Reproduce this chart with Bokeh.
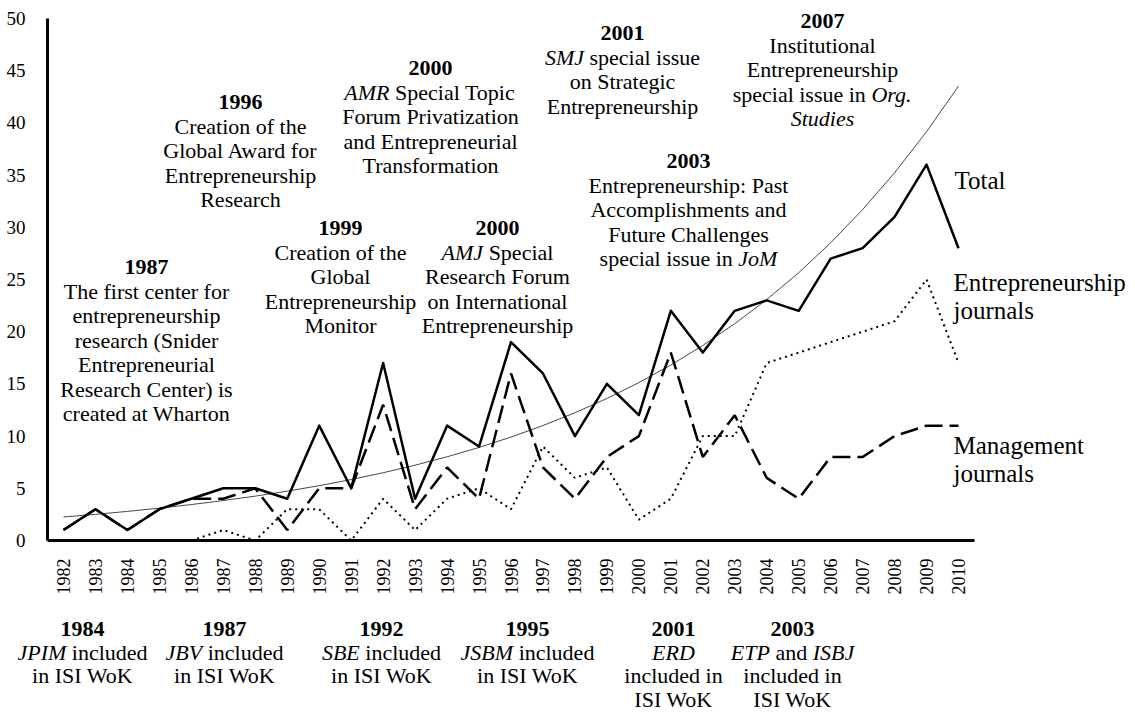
import numpy as np
from bokeh.plotting import figure
from bokeh.models import Label, FixedTicker, Range1d, ColumnDataSource
from bokeh.embed import file_html
from bokeh.resources import INLINE

# ---------------- data ----------------
years = list(range(1982, 2011))
total = [1, 3, 1, 3, 4, 5, 5, 4, 11, 5, 17, 4, 11, 9, 19, 16, 10, 15, 12, 22,
         18, 22, 23, 22, 27, 28, 31, 36, 28]
management = [1, 3, 1, 3, 4, 4, 5, 1, 5, 5, 13, 3, 7, 4, 16, 7, 4, 8, 10, 18,
              8, 12, 6, 4, 8, 8, 10, 11, 11]
nan = float("nan")
entrepreneurship = [nan, nan, nan, nan, 0, 1, 0, 3, 3, 0, 4, 1, 4, 5, 3, 9, 6, 7, 2, 4,
                    10, 10, 17, 18, 19, 20, 21, 25, 17]
y_ticks = list(range(0, 51, 5))

series_names = ["Total", ["Entrepreneurship", "journals"], ["Management", "journals"]]

top_events = [
    ("1987", ["The first center for", "entrepreneurship", "research (Snider",
              "Entrepreneurial", "Research Center) is", "created at Wharton"]),
    ("1996", ["Creation of the", "Global Award for", "Entrepreneurship", "Research"]),
    ("1999", ["Creation of the", "Global", "Entrepreneurship", "Monitor"]),
    ("2000", ["*AMR* Special Topic", "Forum Privatization", "and Entrepreneurial",
              "Transformation"]),
    ("2000", ["*AMJ* Special", "Research Forum", "on International", "Entrepreneurship"]),
    ("2001", ["*SMJ* special issue", "on Strategic", "Entrepreneurship"]),
    ("2003", ["Entrepreneurship: Past", "Accomplishments and", "Future Challenges",
              "special issue in *JoM*"]),
    ("2007", ["Institutional", "Entrepreneurship", "special issue in *Org.*", "*Studies*"]),
]
bottom_events = [
    ("1984", ["*JPIM* included", "in ISI WoK"]),
    ("1987", ["*JBV* included", "in ISI WoK"]),
    ("1992", ["*SBE* included", "in ISI WoK"]),
    ("1995", ["*JSBM* included", "in ISI WoK"]),
    ("2001", ["*ERD*", "included in", "ISI WoK"]),
    ("2003", ["*ETP* and *ISBJ*", "included in", "ISI WoK"]),
]

# ---------------- layout (pixel positions on the page) ----------------
FRAME_L, FRAME_R, FRAME_T, FRAME_B = 47, 974, 18, 540
FIG_W, FIG_H = 1135, 713

top_pos = [(146, 266), (240, 101), (340, 227), (430, 67), (497, 227),
           (622, 32), (688, 160), (822, 20)]
bottom_pos = [(82, 628), (224, 628), (381, 628), (527, 628), (673, 628), (792, 628)]
TOP_STEP = 24.5
BOTTOM_STEP = 23.5
FONT = "Liberation Serif"

x_lo, x_hi = years[0] - 0.5, years[-1] + 0.5
y_lo, y_hi = y_ticks[0], y_ticks[-1]


def X(px):
    return x_lo + (px - FRAME_L) * (x_hi - x_lo) / (FRAME_R - FRAME_L)


def Y(py):
    return y_lo + (FRAME_B - py) * (y_hi - y_lo) / (FRAME_B - FRAME_T)


p = figure(width=FIG_W, height=FIG_H,
           x_range=Range1d(X(0), X(FIG_W)), y_range=Range1d(Y(FIG_H), Y(0)),
           output_backend="svg", toolbar_location=None, min_border=0)
p.outline_line_color = None
p.xgrid.visible = False
p.ygrid.visible = False
p.background_fill_color = "white"
p.border_fill_color = "white"

for ax in (p.xaxis, p.yaxis):
    ax.axis_line_color = "black"
    ax.axis_line_width = 3
    ax.major_tick_line_color = None
    ax.minor_tick_line_color = None
    ax.major_label_text_font = FONT
    ax.major_label_text_color = "black"

p.xaxis.fixed_location = y_lo
p.xaxis.bounds = (x_lo, x_hi)
p.xaxis.ticker = FixedTicker(ticks=years)
p.xaxis.major_label_orientation = np.pi / 2
p.xaxis.major_label_text_font_size = "18px"
p.xaxis.major_label_standoff = 12

p.yaxis.fixed_location = x_lo
p.yaxis.bounds = (y_lo, y_hi)
p.yaxis.ticker = FixedTicker(ticks=y_ticks)
p.yaxis.major_label_text_font_size = "19px"
p.yaxis.major_label_standoff = 16

# exponential trend line fitted to the total series
idx = np.arange(len(years))
b, a = np.polyfit(idx, np.log(np.array(total, dtype=float)), 1)
trend = np.exp(a + b * idx)

src = ColumnDataSource(dict(year=years, total=total, mgmt=management,
                            ent=entrepreneurship, trend=trend))
p.line("year", "trend", source=src, line_color="#333333", line_width=0.9)
p.line("year", "ent", source=src, line_color="black", line_width=2,
       line_dash="2 4")
p.line("year", "mgmt", source=src, line_color="black", line_width=2.5,
       line_dash="18 7")
p.line("year", "total", source=src, line_color="black", line_width=2.5,
       line_join="round")

# ---------------- text ----------------
W_REG = {' ': 250, 'a': 444, 'b': 500, 'c': 444, 'd': 500, 'e': 444, 'f': 333, 'g': 500,
         'h': 500, 'i': 278, 'j': 278, 'k': 500, 'l': 278, 'm': 778, 'n': 500, 'o': 500,
         'p': 500, 'q': 500, 'r': 333, 's': 389, 't': 278, 'u': 500, 'v': 500, 'w': 722,
         'x': 500, 'y': 500, 'z': 444, '.': 250, 'S': 556, 'T': 611}
W_IT = {' ': 250, 'A': 611, 'B': 611, 'D': 722, 'E': 611, 'I': 333, 'J': 444, 'M': 833,
        'O': 722, 'P': 611, 'R': 611, 'S': 500, 'T': 556, 'V': 611, 'g': 500, 'r': 389,
        '.': 250, 'o': 500, 't': 278, 'u': 500, 'd': 500, 'i': 278, 'e': 444, 's': 389}


def text_w(t, style, size):
    tab = W_IT if style == "italic" else W_REG
    return sum(tab.get(c, 500) for c in t) * size / 1000.0


def add_text(px, py, text, style="normal", size=22, align="center", xoff=0):
    p.add_layout(Label(x=X(px), y=Y(py), text=text, text_font=FONT,
                       text_font_size=f"{size}px", text_font_style=style,
                       text_align=align, text_baseline="middle",
                       text_color="black", x_offset=xoff))


def add_line(cx, py, line, size=22):
    parts = line.split("*")
    segs = [(t, "italic" if i % 2 else "normal") for i, t in enumerate(parts) if t]
    if len(segs) == 1:
        add_text(cx, py, segs[0][0].strip(), segs[0][1], size)
        return
    tot = sum(text_w(t, s, size) for t, s in segs)
    cur = -tot / 2.0
    sp = 250 * size / 1000.0
    for t, s in segs:
        core = t.strip()
        lead = len(t) - len(t.lstrip())
        trail = len(t) - len(t.rstrip())
        cur += lead * sp
        add_text(cx, py, core, s, size, align="left", xoff=cur)
        cur += text_w(core, s, size) + trail * sp


for (year, lines), (cx, y0) in zip(top_events, top_pos):
    add_text(cx, y0, year, "bold", 22)
    for k, ln in enumerate(lines):
        add_line(cx, y0 + (k + 1) * TOP_STEP, ln)

for (year, lines), (cx, y0) in zip(bottom_events, bottom_pos):
    add_text(cx, y0, year, "bold", 22)
    for k, ln in enumerate(lines):
        add_line(cx, y0 + (k + 1) * BOTTOM_STEP, ln)

# series labels on the right
legend_pos = [(954, 180), (953, 282), (953, 445)]
for name, (lx, ly) in zip(series_names, legend_pos):
    names = name if isinstance(name, list) else [name]
    for k, n in enumerate(names):
        add_text(lx, ly + k * 28, n, "normal", 25, align="left")

open("out.html", "w").write(file_html(p, INLINE))
